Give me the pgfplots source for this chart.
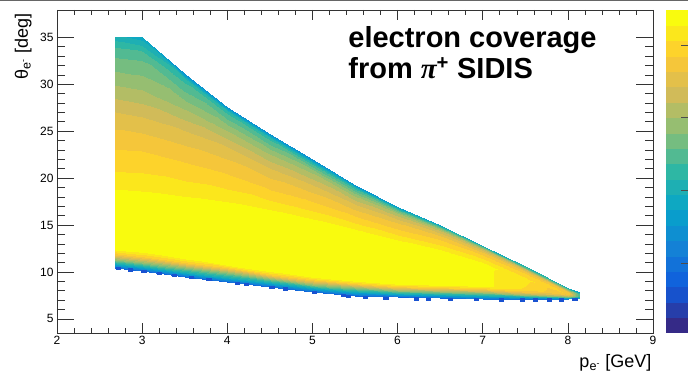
\documentclass[border=0pt]{standalone}
\usepackage{fontspec}
\setmainfont{Liberation Sans}
\newfontfamily\symb{Liberation Serif}
\usepackage{pgfplots}
\pgfplotsset{compat=1.18}

\pgfplotstableread{
x y c
2.68 10.4 0.17
2.68 10.8 0.42
2.68 11.3 0.62
2.68 11.9 0.85
2.68 12.6 1.0
2.68 17.3 1.0
2.68 19.5 0.93
2.68 22.5 0.87
2.68 26.5 0.78
2.68 29.5 0.68
2.68 33.5 0.55
2.68 35.0 0.45
3.0 10.1 0.17
3.0 10.5 0.42
3.0 11.0 0.62
3.0 11.6 0.85
3.0 12.3 1.0
3.0 17.2 1.0
3.0 19.3 0.93
3.0 22.3 0.87
3.0 26.0 0.78
3.0 29.0 0.68
3.0 33.2 0.55
3.0 35.0 0.40
3.5 9.5 0.17
3.5 9.9 0.42
3.5 10.4 0.62
3.5 11.0 0.85
3.5 11.6 1.0
3.5 16.8 1.0
3.5 18.6 0.93
3.5 21.2 0.87
3.5 24.6 0.78
3.5 27.5 0.66
3.5 30.6 0.5
3.5 31.1 0.3
4.0 8.95 0.17
4.0 9.35 0.42
4.0 9.85 0.62
4.0 10.4 0.85
4.0 10.9 1.0
4.0 16.4 1.0
4.0 18.0 0.93
4.0 20.0 0.87
4.0 23.0 0.78
4.0 25.3 0.65
4.0 27.1 0.5
4.0 27.6 0.3
4.5 8.4 0.17
4.5 8.8 0.42
4.5 9.2 0.62
4.5 9.7 0.85
4.5 10.2 1.0
4.5 15.8 1.0
4.5 17.0 0.93
4.5 18.4 0.87
4.5 20.8 0.78
4.5 22.8 0.65
4.5 24.3 0.5
4.5 24.7 0.3
5.0 7.85 0.17
5.0 8.25 0.42
5.0 8.65 0.62
5.0 9.15 0.85
5.0 9.6 1.0
5.0 15.0 1.0
5.0 16.0 0.93
5.0 17.2 0.87
5.0 19.0 0.78
5.0 20.7 0.65
5.0 21.6 0.5
5.0 22.0 0.3
5.5 7.45 0.17
5.5 7.85 0.42
5.5 8.25 0.62
5.5 8.7 0.85
5.5 9.1 1.0
5.5 14.0 1.0
5.5 14.8 0.93
5.5 15.7 0.87
5.5 17.0 0.78
5.5 18.2 0.65
5.5 18.9 0.5
5.5 19.25 0.3
6.0 7.3 0.17
6.0 7.65 0.42
6.0 8.0 0.62
6.0 8.4 0.85
6.0 8.8 1.0
6.0 12.9 1.0
6.0 13.6 0.93
6.0 14.4 0.87
6.0 15.3 0.8
6.0 16.2 0.68
6.0 16.6 0.55
6.0 16.95 0.35
6.5 7.2 0.17
6.5 7.55 0.42
6.5 7.9 0.62
6.5 8.3 0.85
6.5 8.7 1.0
6.5 12.0 1.0
6.5 12.6 0.93
6.5 13.3 0.87
6.5 13.95 0.8
6.5 14.45 0.7
6.5 14.75 0.55
6.5 14.95 0.38
7.0 7.15 0.2
7.0 7.45 0.42
7.0 7.8 0.62
7.0 8.15 0.85
7.0 8.5 0.97
7.0 10.8 0.97
7.0 11.3 0.92
7.0 11.75 0.87
7.0 12.1 0.8
7.0 12.4 0.7
7.0 12.62 0.55
7.0 12.8 0.4
7.5 7.1 0.22
7.5 7.35 0.42
7.5 7.6 0.65
7.5 7.9 0.82
7.5 8.2 0.9
7.5 9.3 0.92
7.5 9.65 0.88
7.5 9.9 0.85
7.5 10.1 0.8
7.5 10.3 0.72
7.5 10.45 0.6
7.5 10.6 0.45
8.0 7.1 0.25
8.0 7.22 0.42
8.0 7.35 0.6
8.0 7.47 0.72
8.0 7.6 0.8
8.0 7.7 0.85
8.0 7.8 0.85
8.0 7.9 0.82
8.0 8.0 0.75
8.0 8.1 0.65
8.0 8.2 0.55
8.0 8.3 0.42
8.14 7.20 0.3
8.14 7.26 0.4
8.14 7.32 0.45
8.14 7.38 0.5
8.14 7.44 0.5
8.14 7.50 0.5
8.14 7.56 0.5
8.14 7.62 0.5
8.14 7.68 0.5
8.14 7.74 0.45
8.14 7.80 0.4
8.14 7.86 0.35
}\coverage

\pgfplotstableread{
x y
2.72 10.38
2.86 10.25
3.02 10.08
3.2 9.88
3.38 9.68
3.58 9.45
3.78 9.2
4.12 8.82
4.22 8.72
4.52 8.38
4.68 8.22
5.02 7.84
5.36 7.5
5.42 7.45
5.62 7.32
5.86 7.2
6.22 7.15
6.36 7.12
6.62 7.12
6.92 7.08
7.22 7.05
7.46 7.03
7.62 7.03
7.78 7.03
7.92 7.05
8.08 7.12
}\specks

\pgfplotsset{
  colormap={bird}{
    rgb=(0.2082,0.1664,0.5293) rgb=(0.1486,0.2438,0.6649) rgb=(0.0890,0.3212,0.8006)
    rgb=(0.0630,0.3887,0.8624) rgb=(0.0705,0.4464,0.8505) rgb=(0.0780,0.5041,0.8385)
    rgb=(0.0561,0.5592,0.8197) rgb=(0.0342,0.6143,0.8008) rgb=(0.0546,0.6571,0.7616)
    rgb=(0.1174,0.6874,0.7021) rgb=(0.1802,0.7178,0.6425) rgb=(0.3202,0.7304,0.5720)
    rgb=(0.4601,0.7429,0.5015) rgb=(0.5878,0.7459,0.4429) rgb=(0.7032,0.7394,0.3964)
    rgb=(0.8186,0.7328,0.3499) rgb=(0.8894,0.7542,0.2887) rgb=(0.9602,0.7755,0.2274)
    rgb=(0.9918,0.8256,0.1682) rgb=(0.9841,0.9044,0.1111) rgb=(0.9764,0.9832,0.0539)
  }
}
\definecolor{speckblue}{rgb}{0.10,0.32,0.82}

\begin{document}
\begin{tikzpicture}
\begin{axis}[
  name=main,
  scale only axis,
  width=596pt, height=323pt,
  xmin=2, xmax=9, ymin=3.5, ymax=37.9,
  xtick={2,3,...,9}, ytick={5,10,...,35},
  minor tick num=4,
  tick align=inside,
  xtick style={/pgfplots/major tick length=10pt},
  ytick style={/pgfplots/major tick length=17pt},
  minor x tick style={/pgfplots/minor tick length=5pt},
  minor y tick style={/pgfplots/minor tick length=8.5pt},
  every tick/.style={black!80, line width=0.5pt},
  axis line style={line width=0.6pt, black!80},
  tick label style={font=\fontsize{12}{14}\selectfont},
  /pgf/number format/assume math mode=true,
  axis on top,
  colormap name=bird,
  colormap access=piecewise constant,
  point meta min=0, point meta max=1,
  xlabel={p\textsubscript{e\textsuperscript{-}} [GeV]},
  ylabel={θ\textsubscript{e\textsuperscript{-}} [deg]},
  label style={font=\fontsize{18}{20}\selectfont},
  xlabel style={at={(rel axis cs:1,0)}, anchor=base east, yshift=-35pt, xshift=2pt},
  ylabel style={at={(rel axis cs:0,1)}, anchor=base east, yshift=29pt},
  colorbar right,
  colorbar style={
    at={(parent axis.north east)}, anchor=north west, xshift=4pt,
    scale only axis, width=31pt, height=323pt,
    axis line style={draw=none},
    ytick pos=right, tick align=inside,
    ytick={0.217,0.443,0.669,0.892},
    minor ytick={0.036,0.081,0.127,0.172,0.262,0.307,0.353,0.398,0.488,0.533,0.579,0.624,0.714,0.759,0.804,0.847,0.937,0.982},
    yticklabels={},
    ytick style={/pgfplots/major tick length=16pt, draw=black!70},
    minor y tick style={/pgfplots/minor tick length=8pt, draw=black!70},
  },
]
\addplot[surf, shader=interp, mesh/rows=12, mesh/cols=13, mesh/ordering=y varies, point meta=explicit]
  table[x=x, y=y, meta=c] {\coverage};
\addplot[only marks, mark=square*, color=speckblue, mark size=1.2pt, mark options={xscale=1.8, draw=none, fill=speckblue}]
  table[x=x, y=y] {\specks};
\node[anchor=base west, font=\fontsize{29}{30}\selectfont\bfseries] at (rel axis cs:0.483,0.883) {electron coverage};
\node[anchor=base west, font=\fontsize{29}{30}\selectfont\bfseries] at (rel axis cs:0.483,0.789) {from {\symb\bfseries\itshape π}\textsuperscript{+} SIDIS};
\end{axis}
\pgfresetboundingbox
\path[use as bounding box] (-57pt,-41pt) rectangle (631pt,333pt);
\draw[black!60, line width=1.5pt] (-57pt,333pt) -- (631pt,333pt);
\end{tikzpicture}
\end{document}
